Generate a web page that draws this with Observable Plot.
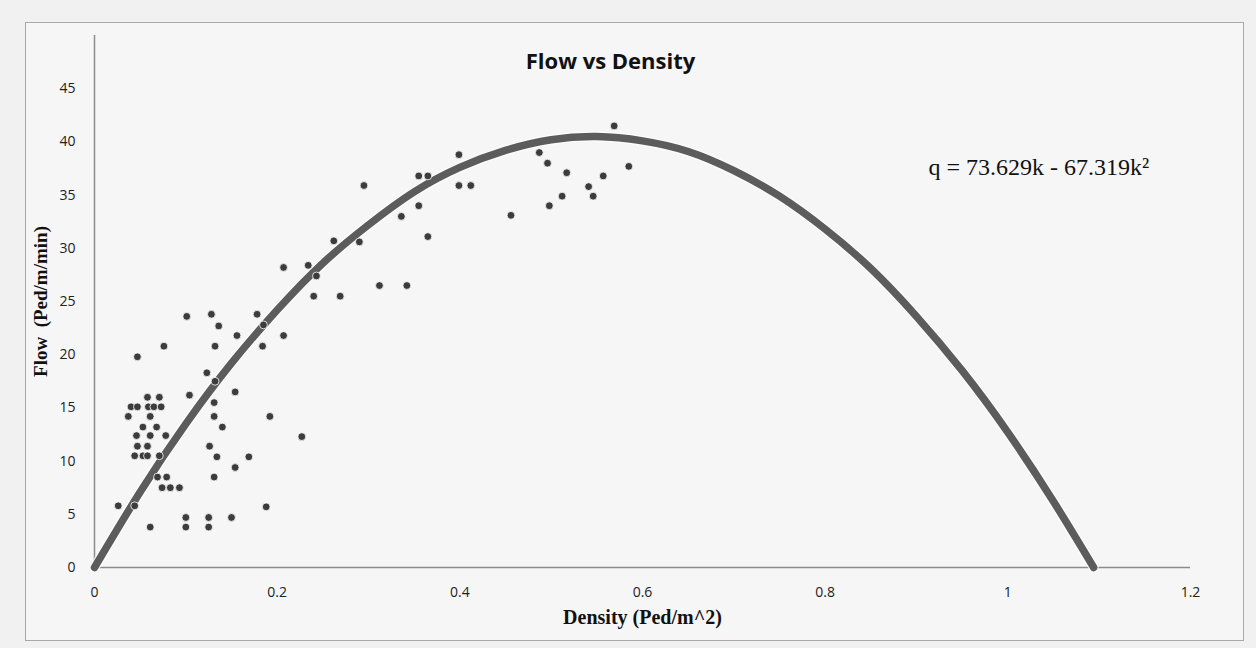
<!DOCTYPE html>
<html>
<head>
<meta charset="utf-8">
<script src="https://cdn.jsdelivr.net/npm/d3@7"></script>
<script src="https://cdn.jsdelivr.net/npm/@observablehq/plot@0.6"></script>
<style>
  html, body { margin: 0; padding: 0; background: #f1f1f1; }
  #wrap { position: relative; width: 1256px; height: 648px; overflow: hidden; background: #f1f1f1; }
  #frame { position: absolute; left: 25px; top: 22px; width: 1217px; height: 617px; border: 1px solid #a9a9a9; background: #f6f6f6; }
  #chart { position: absolute; left: 0; top: 0; }
</style>
</head>
<body>
<div id="wrap"><div id="frame"></div><div id="chart"></div></div>
<script>
// Scatter observations: density (Ped/m^2) and flow (Ped/m/min)
const density = [
  0.026, 0.044, 0.061, 0.100, 0.100, 0.125, 0.125, 0.150, 0.188,
  0.074, 0.083, 0.093, 0.069, 0.079, 0.131, 0.154,
  0.044, 0.053, 0.058, 0.071, 0.134, 0.169,
  0.047, 0.058, 0.126, 0.046, 0.061, 0.078,
  0.053, 0.068, 0.140, 0.037, 0.061, 0.131, 0.192,
  0.040, 0.047, 0.059, 0.065, 0.073, 0.131,
  0.058, 0.071, 0.104, 0.154, 0.123, 0.132,
  0.047, 0.076, 0.132, 0.184, 0.156, 0.207, 0.136, 0.185,
  0.101, 0.128, 0.178, 0.227,
  0.207, 0.234, 0.243, 0.240, 0.269, 0.262, 0.290, 0.312, 0.342,
  0.295, 0.336, 0.355, 0.365, 0.355, 0.365,
  0.399, 0.399, 0.412, 0.456, 0.487, 0.496, 0.498, 0.512, 0.517,
  0.541, 0.546, 0.557, 0.569, 0.585
];
const flow = [
  5.8, 5.8, 3.8, 4.7, 3.8, 4.7, 3.8, 4.7, 5.7,
  7.5, 7.5, 7.5, 8.5, 8.5, 8.5, 9.4,
  10.5, 10.5, 10.5, 10.5, 10.4, 10.4,
  11.4, 11.4, 11.4, 12.4, 12.4, 12.4,
  13.2, 13.2, 13.2, 14.2, 14.2, 14.2, 14.2,
  15.1, 15.1, 15.1, 15.1, 15.1, 15.5,
  16.0, 16.0, 16.2, 16.5, 18.3, 17.5,
  19.8, 20.8, 20.8, 20.8, 21.8, 21.8, 22.7, 22.8,
  23.6, 23.8, 23.8, 12.3,
  28.2, 28.4, 27.4, 25.5, 25.5, 30.7, 30.6, 26.5, 26.5,
  35.9, 33.0, 34.0, 31.1, 36.8, 36.8,
  38.8, 35.9, 35.9, 33.1, 39.0, 38.0, 34.0, 34.9, 37.1,
  35.8, 34.9, 36.8, 41.5, 37.7
];

// Fitted curve, points
const curveDensity = [0, 0.05, 0.10, 0.15, 0.20, 0.25, 0.30, 0.35, 0.40, 0.45, 0.50, 0.55,
  0.60, 0.65, 0.70, 0.75, 0.80, 0.85, 0.90, 0.95, 1.00, 1.05, 1.094];
const curveFlow = [0, 7.1, 13.5, 19.2, 24.2, 28.6, 32.2, 35.3, 37.6, 39.2, 40.2, 40.5,
  40.1, 39.1, 37.3, 34.9, 31.8, 28.1, 23.6, 18.5, 12.7, 6.2, 0];

const xTicks = [0, 0.2, 0.4, 0.6, 0.8, 1, 1.2];
const yTicks = [0, 5, 10, 15, 20, 25, 30, 35, 40, 45];

const titleText = "Flow vs Density";
const xTitle = "Density (Ped/m^2)";
const yTitle = "Flow  (Ped/m/min)";
const equation = "q = 73.629k - 67.319k²";

const points = density.map((d, i) => ({k: d, q: flow[i]}));
const curvePts = curveDensity.map((d, i) => ({k: d, q: curveFlow[i]}));

const sans = "'Open Sans', 'Noto Sans', sans-serif";
const serif = "'Liberation Serif', 'DejaVu Serif', serif";

const chart = Plot.plot({
  width: 1256,
  height: 648,
  marginLeft: 94,
  marginRight: 66,
  marginTop: 35,
  marginBottom: 81,
  style: {background: "transparent", color: "#222"},
  x: {domain: [0, 1.2]},
  y: {domain: [0, 50]},
  marks: [
    Plot.ruleY([0], {stroke: "#8c8c8c", strokeWidth: 1.5}),
    Plot.ruleX([0], {stroke: "#8c8c8c", strokeWidth: 1.5}),
    Plot.axisX({ticks: xTicks, tickSize: 0, tickPadding: 20, label: null,
      tickFormat: d => String(d), fontSize: 14, fontFamily: sans}),
    Plot.axisY({ticks: yTicks, tickSize: 0, tickPadding: 19, label: null,
      tickFormat: d => String(d), fontSize: 14, fontFamily: sans}),
    Plot.line(curvePts, {x: "k", y: "q", curve: "natural", stroke: "#ffffff", strokeWidth: 10, strokeOpacity: 0.8}),
    Plot.line(curvePts, {x: "k", y: "q", curve: "natural", stroke: "#5c5c5c", strokeWidth: 7.5}),
    Plot.dot(points, {x: "k", y: "q", r: 3.9, fill: "#3c3c3c", stroke: "#ffffff", strokeWidth: 1, strokeOpacity: 0.8}),
    Plot.text([titleText], {frameAnchor: "top", dx: -32, dy: 18, text: d => d,
      fontSize: 22, fontWeight: "bold", fontFamily: sans, fill: "#111"}),
    Plot.text([xTitle], {frameAnchor: "bottom", dx: 0, dy: 56, text: d => d,
      fontSize: 20, fontWeight: "bold", fontFamily: serif, fill: "#111"}),
    Plot.text([yTitle], {frameAnchor: "left", textAnchor: "middle", dx: -54, dy: 0, rotate: -90, text: d => d,
      fontSize: 19, fontWeight: "bold", fontFamily: serif, fill: "#111"}),
    Plot.text([equation], {frameAnchor: "top-right", dx: -262, dy: 122, textAnchor: "start", text: d => d,
      fontSize: 24, fontFamily: serif, fill: "#111"})
  ]
});
document.getElementById("chart").appendChild(chart);
</script>
</body>
</html>
